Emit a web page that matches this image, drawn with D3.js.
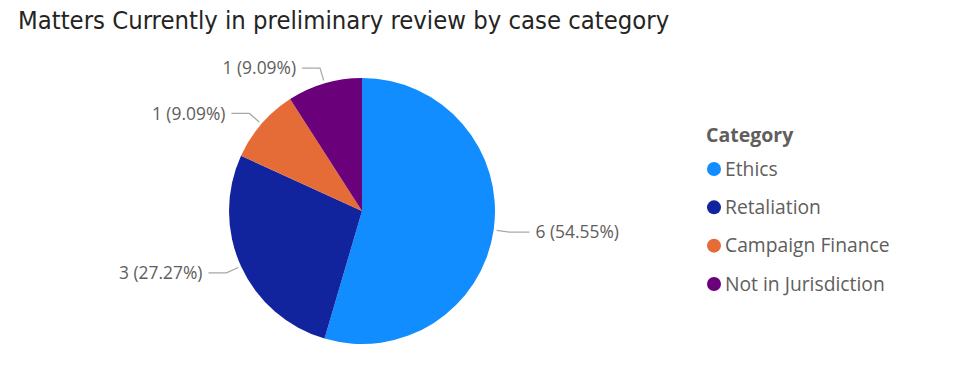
<!DOCTYPE html>
<html>
  <head>
    <script src="https://cdnjs.cloudflare.com/ajax/libs/d3/7.8.5/d3.min.js"></script>
    <meta charset="utf-8">
    <title>Matters by case category</title>
    <style>
      body { margin: 0; background: #fff; }
    </style>
  </head>
  <body>
    <script>
      var categories = ["Ethics", "Retaliation", "Campaign Finance", "Not in Jurisdiction"];
      var counts = [6, 3, 1, 1];
      var colors = ["#118DFF", "#12239E", "#E66C37", "#6B007B"];

      var width = 975, height = 382;
      var cx = 362, cy = 211, radius = 133;

      var svg = d3.select("body").append("svg")
                  .attr("width", width)
                  .attr("height", height);

      svg.append("text")
         .attr("x", 18)
         .attr("y", 29)
         .attr("font-family", "'DejaVu Sans Condensed', sans-serif")
         .attr("font-size", 25.4)
         .attr("fill", "#252423")
         .text("Matters Currently in preliminary review by case category");

      var total = d3.sum(counts);
      var data = categories.map(function (c, i) { return { name: c, value: counts[i], color: colors[i] }; });

      var pie = d3.pie().sort(null).value(function (d) { return d.value; });
      var arc = d3.arc().innerRadius(0).outerRadius(radius);
      var arcs = pie(data);

      var g = svg.append("g").attr("transform", "translate(" + cx + "," + cy + ")");

      g.selectAll("path")
       .data(arcs)
       .enter()
       .append("path")
       .attr("d", arc)
       .attr("fill", function (d) { return d.data.color; });

      // leader lines + labels
      function pt(a, r) { return [r * Math.sin(a), -r * Math.cos(a)]; }
      arcs.forEach(function (d) {
        var mid = (d.startAngle + d.endAngle) / 2;
        var p0 = pt(mid, radius + 3);
        var p1 = pt(mid, radius + 16);
        var right = Math.sin(mid) > 0;
        var len = right ? 20 : 18;
        var p2 = [p1[0] + (right ? len : -len), p1[1]];
        g.append("polyline")
         .attr("points", [p0, p1, p2].map(function (p) { return p.join(","); }).join(" "))
         .attr("fill", "none")
         .attr("stroke", "#a8a8a8")
         .attr("stroke-width", 1.2);
        var pct = (d.data.value / total * 100).toFixed(2);
        g.append("text")
         .attr("x", p2[0] + (right ? 6 : -6))
         .attr("y", p2[1])
         .attr("dy", "0.35em")
         .attr("text-anchor", right ? "start" : "end")
         .attr("font-family", "'Open Sans', sans-serif")
         .attr("font-size", 17.4)
         .attr("fill", "#605E5C")
         .text(d.data.value + " (" + pct + "%)");
      });

      // legend
      var legend = svg.append("g").attr("transform", "translate(706,0)");
      legend.append("text")
            .attr("x", 0)
            .attr("y", 142)
            .attr("font-family", "'Open Sans', sans-serif")
            .attr("font-weight", "bold")
            .attr("font-size", 19.5)
            .attr("fill", "#605E5C")
            .text("Category");

      var y = d3.scalePoint().domain(categories).range([169, 284]);
      var items = legend.selectAll("g.item")
                        .data(data)
                        .enter()
                        .append("g")
                        .attr("class", "item")
                        .attr("transform", function (d) { return "translate(0," + y(d.name) + ")"; });
      items.append("circle")
           .attr("cx", 8)
           .attr("cy", 0)
           .attr("r", 7)
           .attr("fill", function (d) { return d.color; });
      items.append("text")
           .attr("x", 19)
           .attr("y", 0)
           .attr("dy", "0.35em")
           .attr("font-family", "'Open Sans', sans-serif")
           .attr("font-size", 19.3)
           .attr("fill", "#605E5C")
           .text(function (d) { return d.name; });
    </script>
  </body>
</html>
